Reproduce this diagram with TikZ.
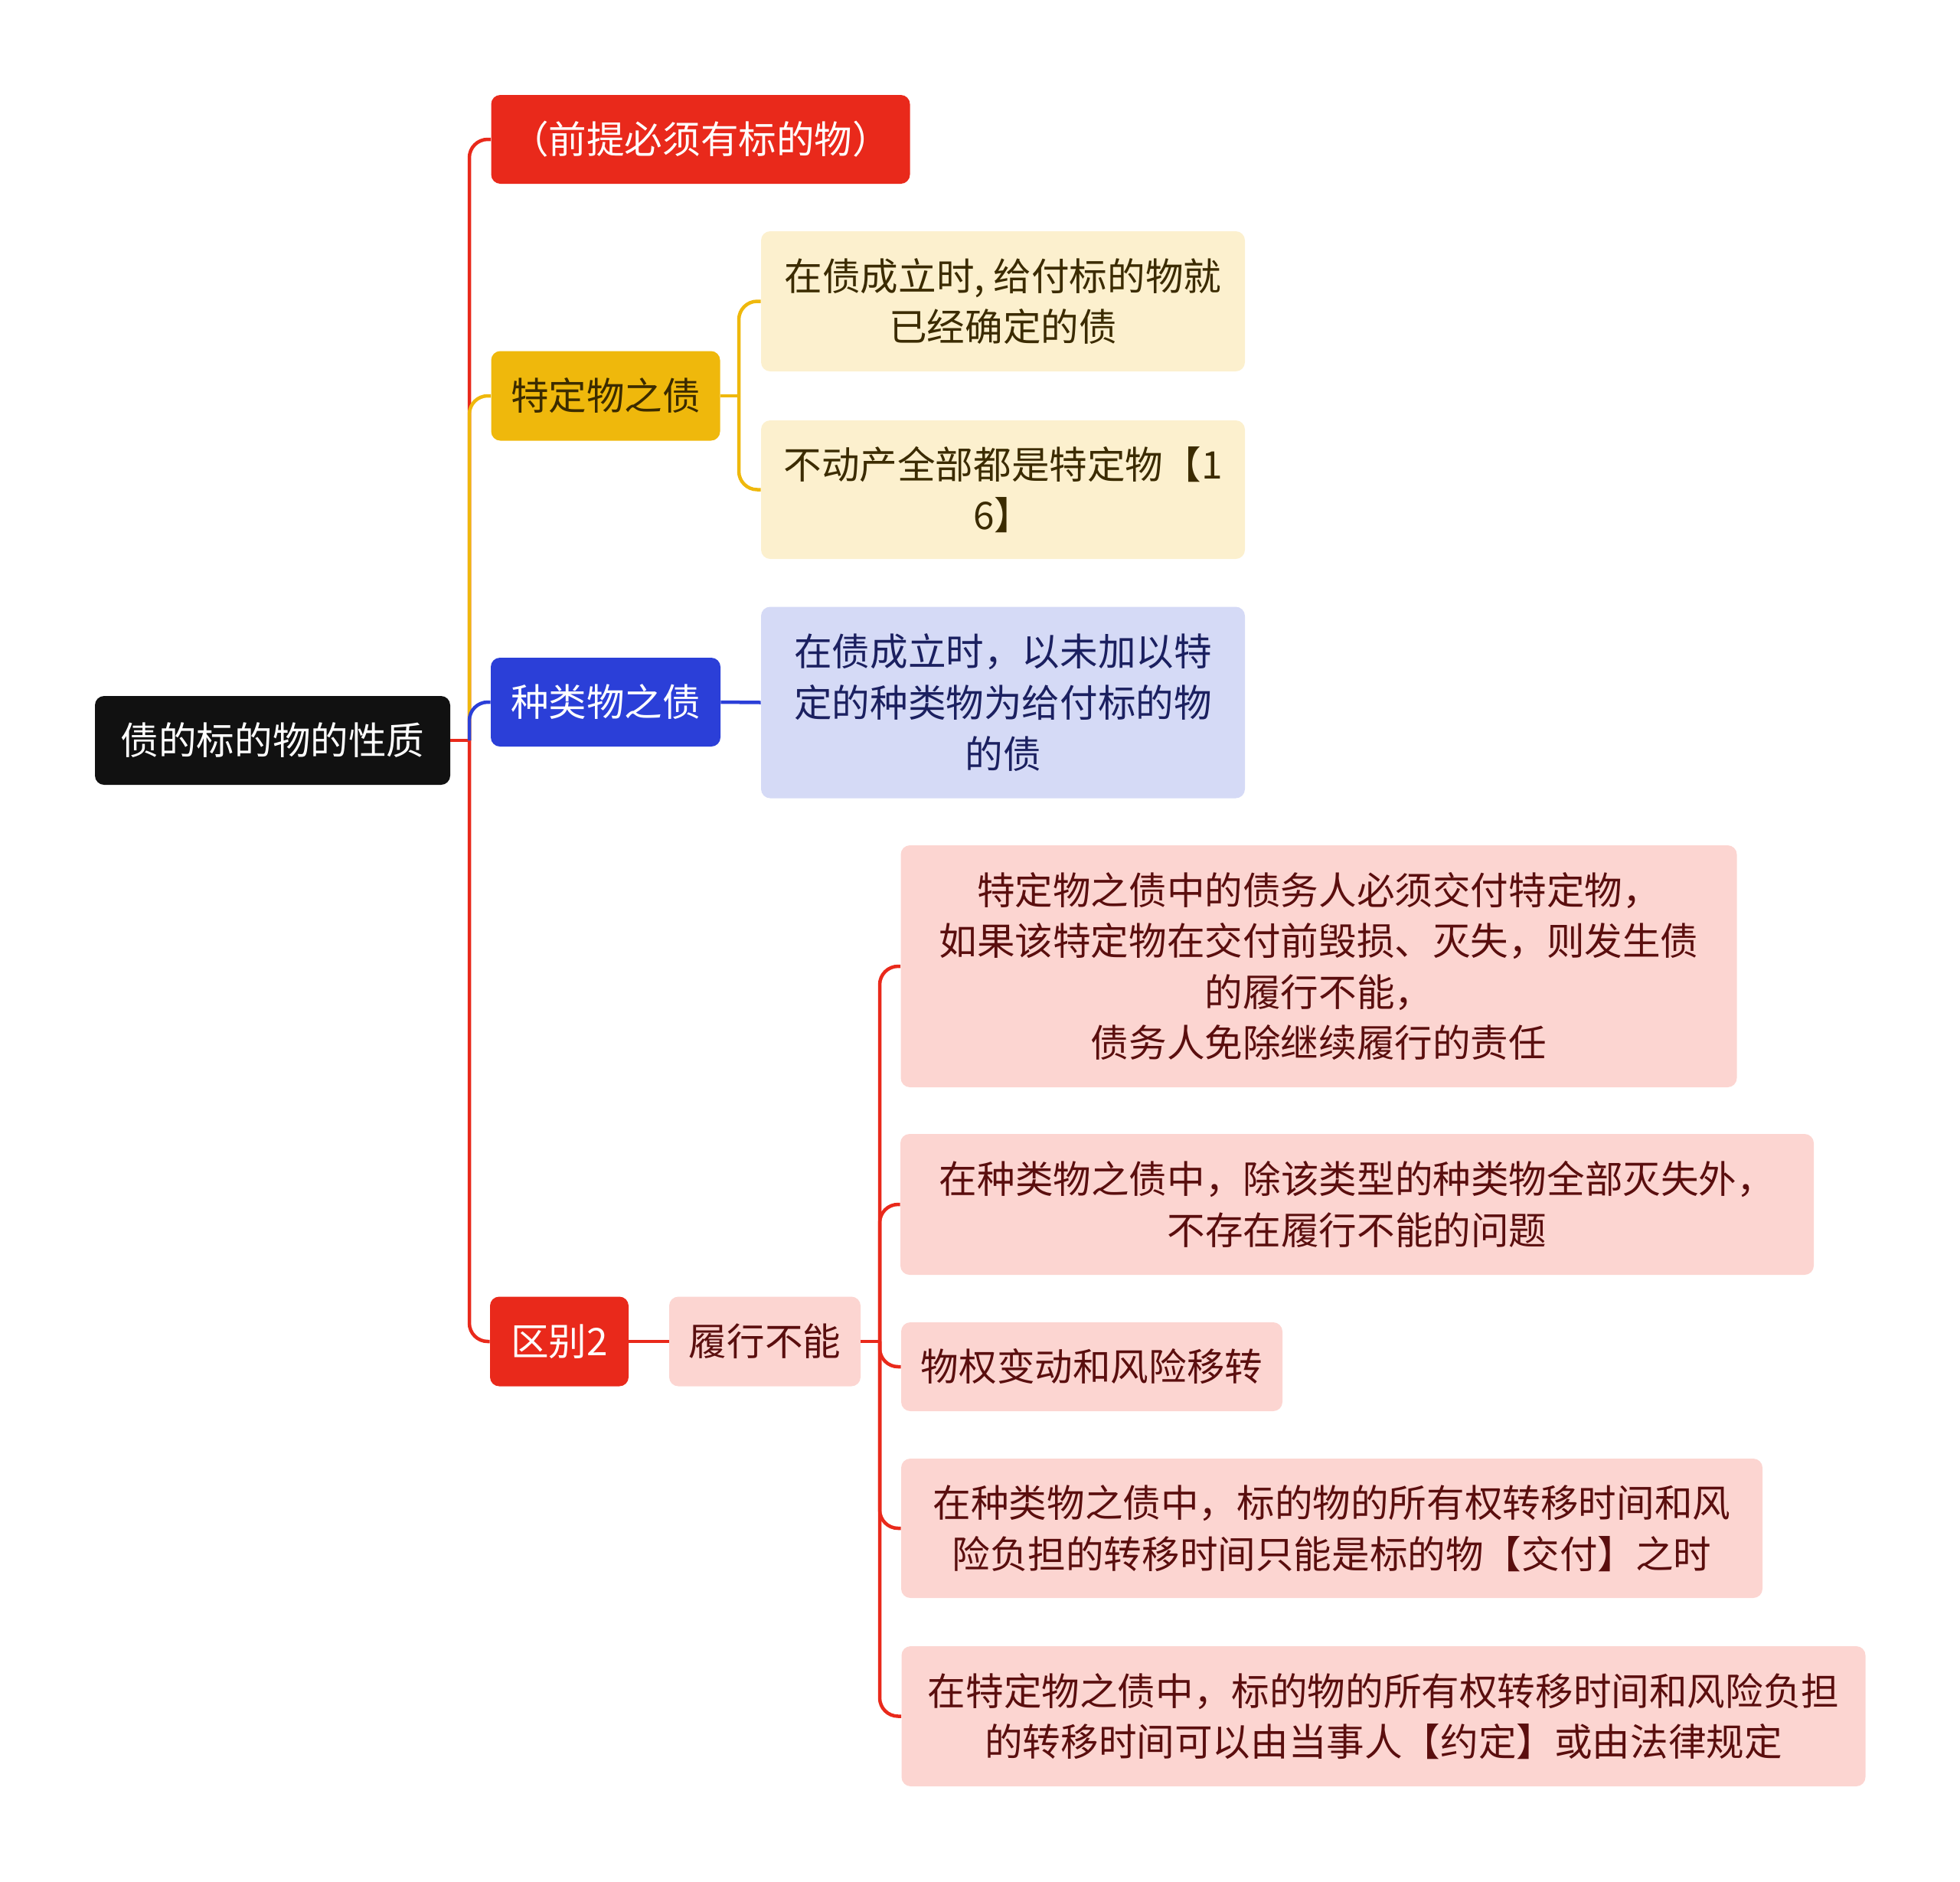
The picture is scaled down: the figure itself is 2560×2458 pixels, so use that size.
\documentclass[tikz,border=0pt]{standalone}
\usepackage{fontspec}
\setmainfont{Noto Sans CJK SC}
\definecolor{rootblack}{HTML}{111111}
\definecolor{redc}{HTML}{E9291B}
\definecolor{yellowc}{HTML}{EFB80C}
\definecolor{bluec}{HTML}{2B3FD8}
\definecolor{lightyellow}{HTML}{FCF0CE}
\definecolor{lavender}{HTML}{D5DAF6}
\definecolor{pinkc}{HTML}{FCD5D1}
\definecolor{ytext}{HTML}{3B2B00}
\definecolor{ptext}{HTML}{5A0E0E}
\definecolor{ltext}{HTML}{1B2060}
\tikzset{
  box/.style={rounded corners=6pt, inner sep=0pt, align=center,
    font=\fontsize{24.8pt}{33.3pt}\selectfont},
  rootbox/.style={box, fill=rootblack, text=white},
  redbox/.style={box, fill=redc, text=white},
  yellowbox/.style={box, fill=yellowc, text=ytext},
  bluebox/.style={box, fill=bluec, text=white},
  lybox/.style={box, fill=lightyellow, text=ytext},
  lavbox/.style={box, fill=lavender, text=ltext},
  pinkbox/.style={box, fill=pinkc, text=ptext},
  conn/.style={line width=2.25pt, rounded corners=12pt},
}
\begin{document}
\begin{tikzpicture}[x=0.5pt,y=-0.5pt]
\useasboundingbox (0,0) rectangle (2560,2458);
% nodes
\node[rootbox, minimum width=232pt, minimum height=58pt] (root) at (356,967) {债的标的物的性质};
\node[redbox, minimum width=273.5pt, minimum height=58pt] (n1) at (915,182) {（前提必须有标的物）};
\node[yellowbox, minimum width=149.5pt, minimum height=58.5pt] (n2) at (791,517) {特定物之债};
\node[bluebox, minimum width=150pt, minimum height=58pt] (n3) at (791,917) {种类物之债};
\node[redbox, minimum width=90.5pt, minimum height=58.5pt] (n4) at (730.5,1752) {区别2};
\node[lybox, minimum width=316pt, minimum height=91.5pt] (n2a) at (1310,393.5) {在债成立时, 给付标的物就\\已经确定的债};
\node[lybox, minimum width=316pt, minimum height=90.5pt] (n2b) at (1310,639.5) {不动产全部都是特定物【1\\6】};
\node[lavbox, minimum width=316pt, minimum height=125pt] (n3a) at (1310,917.5) {在债成立时，以未加以特\\定的种类物为给付标的物\\的债};
\node[pinkbox, minimum width=125pt, minimum height=58.5pt] (n4a) at (999,1752) {履行不能};
\node[pinkbox, minimum width=546pt, minimum height=158pt] (l1) at (1722.5,1262) {特定物之债中的债务人必须交付特定物，\\如果该特定物在交付前毁损、灭失，则发生债\\的履行不能，\\债务人免除继续履行的责任};
\node[pinkbox, minimum width=596.5pt, minimum height=92pt] (l2) at (1772.5,1573) {在种类物之债中，除该类型的种类物全部灭失外，\\不存在履行不能的问题};
\node[pinkbox, minimum width=249pt, minimum height=58pt] (l3) at (1426,1785) {物权变动和风险移转};
\node[pinkbox, minimum width=562.5pt, minimum height=91pt] (l4) at (1739.5,1996) {在种类物之债中，标的物的所有权转移时间和风\\险负担的转移时间只能是标的物【交付】之时};
\node[pinkbox, minimum width=629.5pt, minimum height=91.5pt] (l5) at (1807,2241.5) {在特定物之债中，标的物的所有权转移时间和风险负担\\的转移时间可以由当事人【约定】或由法律规定};
% junction coordinates
\coordinate (tr) at (613,967);
\coordinate (b2) at (965,517);
\coordinate (b4) at (1149,1752);
% connectors, level 1
\draw[conn, redc] (root.east) -- (tr);
\draw[conn, redc] (tr) |- (n1.west);
\draw[conn, redc] (tr) |- (n4.west);
\draw[conn, yellowc] (tr) |- (n2.west);
\draw[conn, bluec] (tr) |- (n3.west);
% level 2
\draw[conn, yellowc] (n2.east) -- (b2);
\draw[conn, yellowc] (b2) |- (n2a.west);
\draw[conn, yellowc] (b2) |- (n2b.west);
\draw[conn, bluec] (n3.east) -- (n3a.west);
\draw[conn, redc] (n4.east) -- (n4a.west);
% level 3
\draw[conn, redc] (n4a.east) -- (b4);
\draw[conn, redc] (b4) |- (l1.west);
\draw[conn, redc] (b4) |- (l2.west);
\draw[conn, redc] (b4) |- (l3.west);
\draw[conn, redc] (b4) |- (l4.west);
\draw[conn, redc] (b4) |- (l5.west);
\end{tikzpicture}
\end{document}
